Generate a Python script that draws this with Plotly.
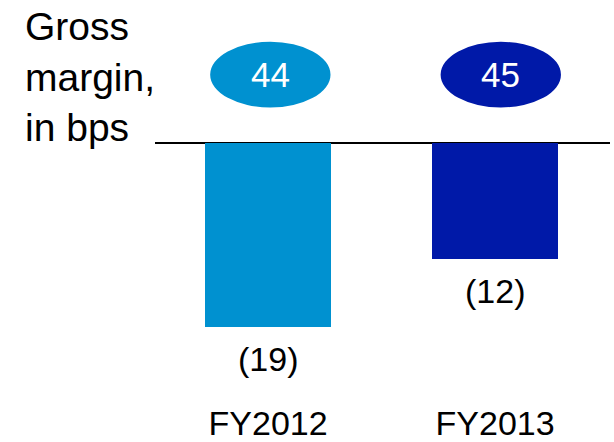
import plotly.graph_objects as go

categories = ["FY2012", "FY2013"]
bar_values = [-19, -12]
bar_labels = ["(19)", "(12)"]
bubble_values = [44, 45]
colors = ["#0091D0", "#0019A8"]
title_lines = ["Gross", "margin,", "in bps"]

FONT = "Liberation Sans, Arial, sans-serif"
x_idx = list(range(len(categories)))
bubble_dx = [0.01, 0.025]

PX_PER_UNIT = 9.72
ZERO_PX = 143.5
PLOT_H = 402
y_top = ZERO_PX / PX_PER_UNIT
y_bot = -(PLOT_H - ZERO_PX) / PX_PER_UNIT

fig = go.Figure()
fig.add_trace(go.Bar(
    x=x_idx, y=bar_values, width=0.555,
    marker=dict(color=colors, line=dict(width=0)),
    hoverinfo="skip", showlegend=False,
))

# value labels under bars
for i, (v, t) in enumerate(zip(bar_values, bar_labels)):
    fig.add_annotation(x=i, y=v, xref="x", yref="y", text=t, showarrow=False,
                       yanchor="middle", yshift=-32,
                       font=dict(family=FONT, size=34, color="#000000"))

# bubbles
bubble_y = (ZERO_PX - 75) / PX_PER_UNIT
bubble_hh = 33 / PX_PER_UNIT
for i, (b, c) in enumerate(zip(bubble_values, colors)):
    cx = i + bubble_dx[i]
    fig.add_shape(type="circle", xref="x", yref="y",
                  x0=cx - 0.265, x1=cx + 0.265,
                  y0=bubble_y - bubble_hh, y1=bubble_y + bubble_hh,
                  fillcolor=c, line=dict(width=0), layer="above")
    fig.add_annotation(x=cx, y=bubble_y, xref="x", yref="y", text=str(b),
                       showarrow=False, yanchor="middle",
                       font=dict(family=FONT, size=35, color="#FFFFFF"))

# left title
fig.add_annotation(xref="paper", yref="paper", x=(23 - 155) / 455, y=(402 - 77) / 402,
                   xanchor="left", yanchor="middle", align="left",
                   text="<br>".join(title_lines), showarrow=False,
                   font=dict(family=FONT, size=39, color="#000000"))

fig.update_layout(
    width=614, height=442,
    margin=dict(l=155, r=4, t=0, b=40),
    paper_bgcolor="white", plot_bgcolor="white",
    font=dict(family=FONT, color="#000000"),
    bargap=0,
    xaxis=dict(range=[-0.498, 1.506], tickvals=x_idx, ticktext=categories,
               showgrid=False, zeroline=False, showline=False, ticks="",
               tickfont=dict(family=FONT, size=34, color="#000000")),
    yaxis=dict(range=[y_bot, y_top], showgrid=False, zeroline=True,
               zerolinecolor="#000000", zerolinewidth=1.5,
               showticklabels=False, ticks="", showline=False),
)

fig.write_html("out.html", config={"displayModeBar": False},
               post_script="document.body.style.margin='0';document.body.style.overflow='hidden';")
